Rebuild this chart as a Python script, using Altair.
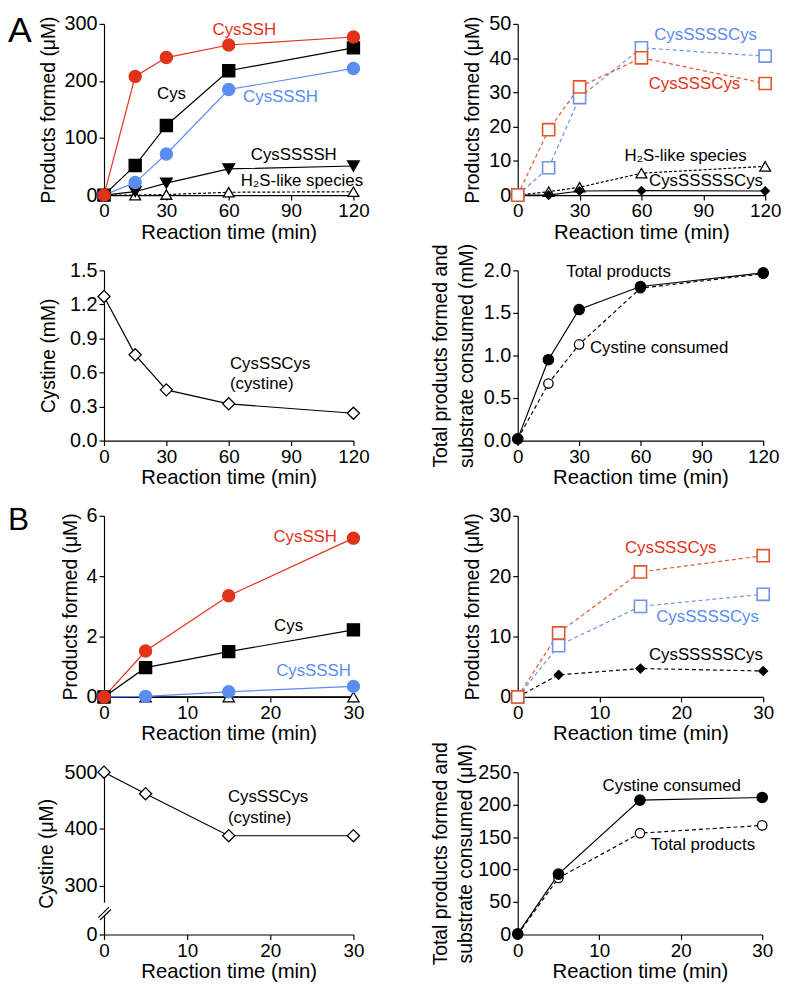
import altair as alt
import pandas as pd

FONT = "Liberation Sans"
RED = "#e2321a"
BLUE = "#5b8cf0"
RED_L = "#e2552c"
BLUE_L = "#6e94e8"
BLACK = "#000000"

# ---------------- data ----------------
A_TIME = [0, 15, 30, 60, 120]
B_TIME = [0, 5, 15, 30]

# A, top-left (uM)
A1_CYSSH = [0, 208, 241, 263, 277]
A1_CYS = [0, 52, 122, 218, 258]
A1_CYSSSH = [0, 22, 72, 185, 222]
A1_CYSSSSH = [0, 6, 21, 46, 51]
A1_H2S = [0, 0, 1, 5, 6]

# A, top-right (uM)
A2_CYSSSCYS = [0, 19.1, 31.6, 40.1, 32.6]
A2_CYSSSSCYS = [0, 8.0, 28.5, 43.0, 40.6]
A2_H2S = [0, 1.0, 2.3, 6.4, 8.4]
A2_CYSSSSSCYS = [0, 0, 1.2, 1.3, 1.2]

# A, cystine (mM)
A3_CYSTINE = [1.27, 0.756, 0.447, 0.324, 0.241]

# A, totals (mM)
A4_TOTAL = [0.02, 0.95, 1.54, 1.81, 1.97]
A4_CONSUMED = [0.02, 0.67, 1.13, 1.79, 1.96]

# B, top-left (uM)
B1_CYSSH = [0, 1.52, 3.35, 5.26]
B1_CYS = [0, 0.97, 1.50, 2.22]
B1_CYSSSH = [0, 0.02, 0.17, 0.35]
B1_H2S = [0, 0, 0, 0]

# B, top-right (uM)
B2_CYSSSCYS = [0, 10.6, 20.7, 23.4]
B2_CYSSSSCYS = [0, 8.5, 15.0, 17.0]
B2_CYSSSSSCYS = [0, 3.66, 4.7, 4.3]

# B, cystine (uM)
B3_CYSTINE = [500, 462, 388, 388]
B3_TICKS = [214, 300, 400, 500]

# B, totals (uM)
B4_CONSUMED = [1, 93, 207, 211]
B4_TOTAL = [0, 87, 156, 168]

# annotation anchors (data units)
A1_LAB = ["CysSSH", "Cys", "CysSSSH", "CysSSSSH", "H₂S-like species"]
A1_LAB_T = [67.5, 32.5, 84.9, 91.3, 95.2]
A1_LAB_V = [289.6, 176.9, 171.1, 69.9, 24.8]
A1_LAB_C = [RED, BLACK, BLUE, BLACK, BLACK]

A2_LAB = ["CysSSSSCys", "CysSSSCys", "H₂S-like species", "CysSSSSSCys"]
A2_LAB_T = [91.1, 85.7, 81.4, 91.3]
A2_LAB_V = [46.8, 32.4, 11.4, 4.0]
A2_LAB_C = [BLUE, RED, BLACK, BLACK]

A3_LAB = ["CysSSCys", "(cystine)"]
A3_LAB_T = [60.6, 60.6]
A3_LAB_V = [0.677, 0.50]

A4_LAB = ["Total products", "Cystine consumed"]
A4_LAB_T = [49.3, 35.3]
A4_LAB_V = [1.976, 1.086]
A4_LAB_A = ["center", "left"]

B1_LAB = ["CysSSH", "Cys", "CysSSSH"]
B1_LAB_T = [24.2, 22.2, 25.2]
B1_LAB_V = [5.30, 2.36, 0.85]
B1_LAB_C = [RED, BLACK, BLUE]

B2_LAB = ["CysSSSCys", "CysSSSSCys", "CysSSSSSCys"]
B2_LAB_T = [18.7, 23.2, 23.0]
B2_LAB_V = [24.7, 13.3, 6.95]
B2_LAB_C = [RED, BLUE, BLACK]

B3_LAB = ["CysSSCys", "(cystine)"]
B3_LAB_T = [14.9, 14.9]
B3_LAB_V = [455.8, 419.2]

B4_LAB = ["Cystine consumed", "Total products"]
B4_LAB_T = [18.9, 22.7]
B4_LAB_V = [229, 138]

# axis break decoration for B3 (data units)
BREAK_T = [-0.45, 0.45]
BREAK_V = [247, 270]
SLASH_T1 = [-0.68, -0.48]
SLASH_V1 = [243.6, 239.6]
SLASH_T2 = [0.60, 0.83]
SLASH_V2 = [262.3, 258.1]

XTITLE = "Reaction time (min)"


def encs(xdom, xticks, ydom, yticks, ytitle, yfmt=None, ypad=6, ylabelexpr=None):
    x = alt.X("t:Q", scale=alt.Scale(domain=xdom, nice=False, zero=False),
              axis=alt.Axis(values=xticks, title=XTITLE, format="d"))
    kw = dict(values=yticks, title=ytitle, titlePadding=ypad)
    if yfmt:
        kw["format"] = yfmt
    if ylabelexpr:
        kw["labelExpr"] = ylabelexpr
    y = alt.Y("v:Q", scale=alt.Scale(domain=ydom, nice=False, zero=False), axis=alt.Axis(**kw))
    return x, y


def line(times, vals, x, y, color, dash=None, sw=1.2):
    df = pd.DataFrame({"t": times, "v": vals})
    kw = dict(color=color, strokeWidth=sw)
    if dash:
        kw["strokeDash"] = dash
    return alt.Chart(df).mark_line(**kw).encode(x=x, y=y)


def pts(times, vals, x, y, color, shape, filled, size, sw=1.3):
    df = pd.DataFrame({"t": times, "v": vals})
    return alt.Chart(df).mark_point(
        shape=shape, size=size, filled=True, opacity=1,
        fill=color if filled else "white", stroke=color, strokeWidth=sw
    ).encode(x=x, y=y)


def labels(texts, ts, vs, colors, x, y, align="center", size=17):
    if isinstance(align, str):
        align = [align] * len(texts)
    layers = []
    for a in sorted(set(align)):
        idx = [i for i, v in enumerate(align) if v == a]
        df = pd.DataFrame({
            "t": [ts[i] for i in idx], "v": [vs[i] for i in idx],
            "label": [texts[i] for i in idx], "c": [colors[i] for i in idx],
        })
        layers.append(alt.Chart(df).mark_text(font=FONT, fontSize=size, align=a, baseline="middle").encode(
            x=x, y=y, text="label:N", color=alt.Color("c:N", scale=None)))
    return layers


def letter(s, fs, ypos):
    return alt.Chart(pd.DataFrame({"label": [s]})).mark_text(
        font=FONT, fontSize=fs, align="left", baseline="alphabetic", color="black"
    ).encode(x=alt.value(-97), y=alt.value(ypos), text="label:N")


W_L = 252
H = [173, 172, 183, 164]

# ---- A1 ----
x, y = encs([0, 120], [0, 30, 60, 90, 120], [0, 300], [0, 100, 200, 300], "Products formed (μM)")
A1 = alt.layer(
    line(A_TIME, A1_H2S, x, y, BLACK, dash=[3, 2]),
    line(A_TIME, A1_CYSSSSH, x, y, BLACK),
    line(A_TIME, A1_CYSSSH, x, y, BLUE),
    line(A_TIME, A1_CYS, x, y, BLACK),
    line(A_TIME, A1_CYSSH, x, y, RED),
    pts(A_TIME, A1_H2S, x, y, BLACK, "triangle-up", False, 120),
    pts(A_TIME, A1_CYSSSSH, x, y, BLACK, "triangle-down", True, 140),
    pts(A_TIME, A1_CYSSSH, x, y, BLUE, "circle", True, 150),
    pts(A_TIME, A1_CYS, x, y, BLACK, "square", True, 150),
    pts(A_TIME, A1_CYSSH, x, y, RED, "circle", True, 150),
    *labels(A1_LAB, A1_LAB_T, A1_LAB_V, A1_LAB_C, x, y),
    letter("A", 36, 18),
).properties(width=W_L, height=H[0])

# ---- A2 ----
x, y = encs([0, 120], [0, 30, 60, 90, 120], [0, 50], [0, 10, 20, 30, 40, 50], "Products formed (μM)")
A2 = alt.layer(
    line(A_TIME, A2_CYSSSSSCYS, x, y, BLACK),
    line(A_TIME, A2_H2S, x, y, BLACK, dash=[3, 2]),
    line(A_TIME, A2_CYSSSSCYS, x, y, BLUE_L, dash=[4, 3]),
    line(A_TIME, A2_CYSSSCYS, x, y, RED_L, dash=[4, 3]),
    pts(A_TIME, A2_H2S, x, y, BLACK, "triangle-up", False, 120),
    pts(A_TIME, A2_CYSSSSSCYS, x, y, BLACK, "diamond", True, 70),
    pts(A_TIME, A2_CYSSSSCYS, x, y, BLUE_L, "square", False, 150, sw=1.6),
    pts(A_TIME, A2_CYSSSCYS, x, y, RED_L, "square", False, 150, sw=1.6),
    *labels(A2_LAB, A2_LAB_T, A2_LAB_V, A2_LAB_C, x, y),
).properties(width=250, height=H[0])

# ---- A3 ----
x, y = encs([0, 120], [0, 30, 60, 90, 120], [0, 1.5], [0, 0.3, 0.6, 0.9, 1.2, 1.5], "Cystine (mM)", yfmt=".1f", ypad=11)
A3 = alt.layer(
    line(A_TIME, A3_CYSTINE, x, y, BLACK),
    pts(A_TIME, A3_CYSTINE, x, y, BLACK, "diamond", False, 150),
    *labels(A3_LAB, A3_LAB_T, A3_LAB_V, [BLACK, BLACK], x, y, align="left"),
).properties(width=W_L, height=H[1])

# ---- A4 ----
x, y = encs([0, 120], [0, 30, 60, 90, 120], [0, 2.0], [0, 0.5, 1.0, 1.5, 2.0],
            ["Total products formed and", "substrate consumed (mM)"], yfmt=".1f", ypad=7)
A4 = alt.layer(
    line(A_TIME, A4_CONSUMED, x, y, BLACK, dash=[4, 3]),
    line(A_TIME, A4_TOTAL, x, y, BLACK),
    pts(A_TIME, A4_CONSUMED, x, y, BLACK, "circle", False, 90),
    pts(A_TIME, A4_TOTAL, x, y, BLACK, "circle", True, 110),
    *labels(A4_LAB, A4_LAB_T, A4_LAB_V, [BLACK, BLACK], x, y, align=A4_LAB_A),
).properties(width=248, height=H[1])

# ---- B1 ----
x, y = encs([0, 30], [0, 10, 20, 30], [0, 6], [0, 2, 4, 6], "Products formed (μM)")
B1 = alt.layer(
    line(B_TIME, B1_H2S, x, y, BLACK),
    line(B_TIME, B1_CYSSSH, x, y, BLUE),
    line(B_TIME, B1_CYS, x, y, BLACK),
    line(B_TIME, B1_CYSSH, x, y, RED),
    pts(B_TIME, B1_H2S, x, y, BLACK, "triangle-up", False, 130),
    pts(B_TIME, B1_CYSSSH, x, y, BLUE, "circle", True, 150),
    pts(B_TIME, B1_CYS, x, y, BLACK, "square", True, 150),
    pts(B_TIME, B1_CYSSH, x, y, RED, "circle", True, 150),
    *labels(B1_LAB, B1_LAB_T, B1_LAB_V, B1_LAB_C, x, y),
    letter("B", 32, 14),
).properties(width=W_L, height=H[2])

# ---- B2 ----
x, y = encs([0, 30], [0, 10, 20, 30], [0, 30], [0, 10, 20, 30], "Products formed (μM)")
B2 = alt.layer(
    line(B_TIME, B2_CYSSSSSCYS, x, y, BLACK, dash=[4, 3]),
    line(B_TIME, B2_CYSSSSCYS, x, y, BLUE_L, dash=[4, 3]),
    line(B_TIME, B2_CYSSSCYS, x, y, RED_L, dash=[4, 3]),
    pts(B_TIME, B2_CYSSSSSCYS, x, y, BLACK, "diamond", True, 80),
    pts(B_TIME, B2_CYSSSSCYS, x, y, BLUE_L, "square", False, 150, sw=1.6),
    pts(B_TIME, B2_CYSSSCYS, x, y, RED_L, "square", False, 150, sw=1.6),
    *labels(B2_LAB, B2_LAB_T, B2_LAB_V, B2_LAB_C, x, y),
).properties(width=248, height=H[2])

# ---- B3 ----
x, y = encs([0, 30], [0, 10, 20, 30], [B3_TICKS[0], 500], B3_TICKS, "Cystine (μM)",
            ylabelexpr="datum.value < 250 ? '0' : datum.label", ypad=8)
brk = pd.DataFrame({"t": [BREAK_T[0]], "t2": [BREAK_T[1]], "v": [BREAK_V[0]], "v2": [BREAK_V[1]]})
sl = pd.DataFrame({"t": SLASH_T1, "v": SLASH_V1, "t2": SLASH_T2, "v2": SLASH_V2})
B3 = alt.layer(
    alt.Chart(brk).mark_rect(color="white").encode(x=x, x2="t2:Q", y=y, y2="v2:Q"),
    alt.Chart(sl).mark_rule(color="black", strokeWidth=1.2).encode(x=x, x2="t2:Q", y=y, y2="v2:Q"),
    line(B_TIME, B3_CYSTINE, x, y, BLACK),
    pts(B_TIME, B3_CYSTINE, x, y, BLACK, "diamond", False, 150),
    *labels(B3_LAB, B3_LAB_T, B3_LAB_V, [BLACK, BLACK], x, y, align="left"),
).properties(width=W_L, height=H[3])

# ---- B4 ----
x, y = encs([0, 30], [0, 10, 20, 30], [0, 250], [0, 50, 100, 150, 200, 250],
            ["Total products formed and", "substrate consumed (μM)"], ypad=2)
B4 = alt.layer(
    line(B_TIME, B4_TOTAL, x, y, BLACK, dash=[4, 3]),
    line(B_TIME, B4_CONSUMED, x, y, BLACK),
    pts(B_TIME, B4_TOTAL, x, y, BLACK, "circle", False, 90),
    pts(B_TIME, B4_CONSUMED, x, y, BLACK, "circle", True, 110),
    *labels(B4_LAB, B4_LAB_T, B4_LAB_V, [BLACK, BLACK], x, y),
).properties(width=247, height=H[3])

chart = alt.concat(
    A1, A2, A3, A4, B1, B2, B3, B4,
    columns=2, bounds="flush", align="each",
    spacing=alt.RowColnumber(row=76, column=166),
).properties(padding=0).configure_axis(
    domainColor="black", domainWidth=1.2, tickColor="black", tickWidth=1.2, tickSize=5,
    labelFont=FONT, labelFontSize=20, labelColor="black", labelPadding=2,
    labelFlush=False, labelOverlap=False,
    titleFont=FONT, titleFontWeight="normal", titleColor="black",
    titleLineHeight=26, grid=False,
).configure_axisX(titlePadding=1.5, titleFontSize=20.5, labelFontSize=19).configure_axisY(
    titleFontSize=19.5
).configure_view(stroke=None)

chart.save("out.html", embed_options={"renderer": "svg", "actions": False})
